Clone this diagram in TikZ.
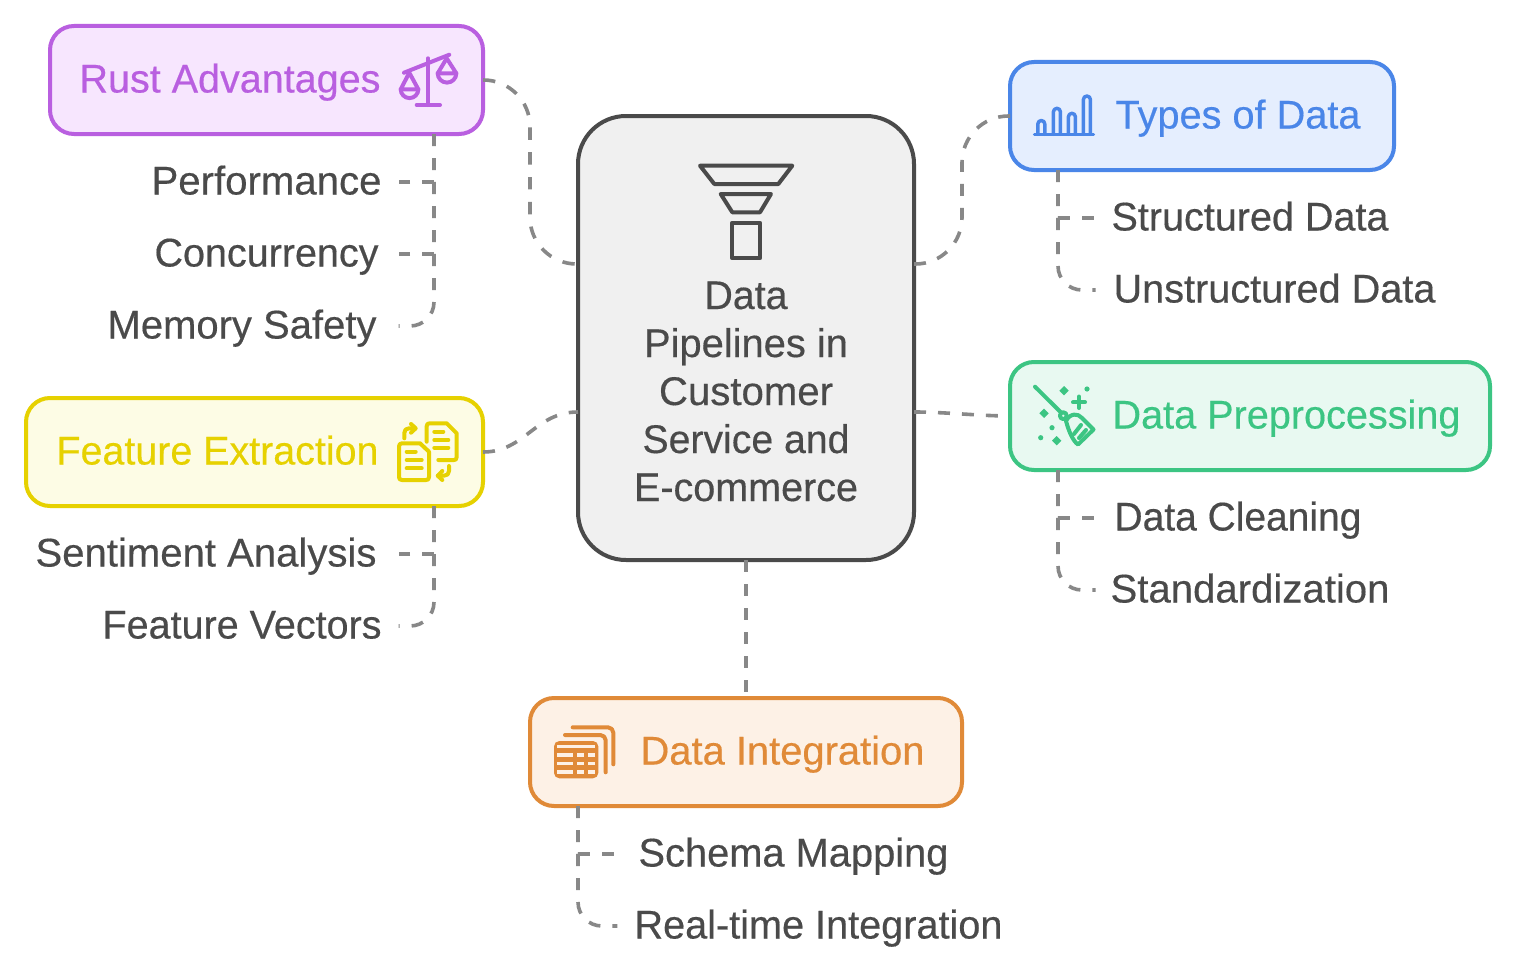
\documentclass[tikz,border=0pt]{standalone}
\usepackage{graphicx}
\usepackage{fontspec}
\setmainfont{Liberation Sans}[FakeBold=0.4]
\usetikzlibrary{calc}
\definecolor{cpurple}{HTML}{B95FE0}\definecolor{fpurple}{HTML}{F7E6FE}
\definecolor{cblue}{HTML}{4A86E8}\definecolor{fblue}{HTML}{E5EEFE}
\definecolor{cgreen}{HTML}{3CC583}\definecolor{fgreen}{HTML}{E8F9F1}
\definecolor{cyellow}{HTML}{E6D100}\definecolor{fyellow}{HTML}{FDFCE5}
\definecolor{corange}{HTML}{E08A38}\definecolor{forange}{HTML}{FDF1E6}
\definecolor{cdark}{HTML}{4A4A4A}\definecolor{fgray}{HTML}{F0F0F0}
\definecolor{cconn}{HTML}{888888}
\newcommand{\fitw}[2]{\resizebox{\dimexpr #1pt*3/4+0.75pt\relax}{\height}{#2}}
\newcommand{\boxn}[6]{\node[#6,minimum width={(#4-#2)*0.75pt},minimum height={(#5-#3)*0.75pt}] (#1) at ({(#2+#4)/2},{(#3+#5)/2}) {};}
\newcommand{\lab}[7][]{\node[textn,text=#7,#1] (#2) at ({(#3+#4)/2},#5) {\fitw{\the\numexpr #4-#3\relax}{#6}};}
\newcommand{\child}[6]{\node[textn,text=cdark,inner xsep={#5*0.75pt}] (#1) at ({(#2+#3)/2},#4) {\fitw{\the\numexpr #3-#2\relax}{#6}};}
\tikzset{
  boxbase/.style={draw,rectangle,rounded corners=18pt,line width=3pt,outer sep=0pt,inner sep=0pt},
  textn/.style={inner xsep=0pt,inner ysep=0pt,outer sep=0pt,font=\fontsize{30}{36}\selectfont,text height=18.75pt,text depth=0pt,anchor=center},
  conn/.style={draw=cconn,line width=2.7pt,dash pattern=on 9pt off 9pt},
  icon/.style={line width=3pt,line cap=round,line join=round},
}
\begin{document}
\begin{tikzpicture}[x=0.75pt,y=-0.75pt]
\useasboundingbox (0,0) rectangle (1516,974);
\fill[white] (0,0) rectangle (1516,974);
% boxes
\boxn{center}{578}{116}{914}{560}{boxbase,rounded corners=36pt,draw=cdark,fill=fgray}
\boxn{rust}{50}{26}{483}{134}{boxbase,draw=cpurple,fill=fpurple}
\boxn{types}{1010}{62}{1394}{170}{boxbase,draw=cblue,fill=fblue}
\boxn{prep}{1010}{362}{1490}{470}{boxbase,draw=cgreen,fill=fgreen}
\boxn{feat}{26}{398}{483}{506}{boxbase,draw=cyellow,fill=fyellow}
\boxn{integ}{530}{698}{962}{806}{boxbase,draw=corange,fill=forange}
% box labels
\lab{lrust}{80}{380}{80}{Rust Advantages}{cpurple}
\lab{ltypes}{1116}{1360}{116}{Types of Data}{cblue}
\lab{lprep}{1113}{1460}{416}{Data Preprocessing}{cgreen}
\lab{lfeat}{57}{378}{452}{Feature Extraction}{cyellow}
\lab{linteg}{641}{924}{752}{Data Integration}{corange}
% centre label
\node[text=cdark,align=center,font=\fontsize{30}{36}\selectfont,inner sep=0pt,anchor=base] (lcenter) at (746,501) {\fitw{82}{Data}\\\fitw{203}{Pipelines in}\\\fitw{173}{Customer}\\\fitw{206}{Service and}\\\fitw{223}{E-commerce}};
% children
\child{perf}{152}{381}{182}{17}{Performance}
\child{conc}{155}{378}{254}{20}{Concurrency}
\child{memo}{108}{376}{326}{22}{Memory Safety}
\child{sent}{36}{376}{554}{22}{Sentiment Analysis}
\child{fvec}{103}{381}{626}{17}{Feature Vectors}
\child{stru}{1112}{1388}{218}{16}{Structured Data}
\child{unst}{1114}{1435}{290}{18}{Unstructured Data}
\child{clea}{1115}{1361}{518}{19}{Data Cleaning}
\child{stan}{1111}{1389}{590}{15}{Standardization}
\child{sche}{639}{948}{854}{25}{Schema Mapping}
\child{real}{635}{1002}{926}{17}{Real-time Integration}
% connectors
\coordinate (cl1) at ($(center.north west)!1/3!(center.south west)$);
\coordinate (cl2) at ($(center.north west)!2/3!(center.south west)$);
\coordinate (cr1) at ($(center.north east)!1/3!(center.south east)$);
\coordinate (cr2) at ($(center.north east)!2/3!(center.south east)$);
\coordinate (lbend) at (530,170);
\coordinate (rbend) at (962,190);
\coordinate (rtrunk) at (434,134);
\coordinate (ftrunk) at (434,506);
\coordinate (ttrunk) at (1058,170);
\coordinate (ptrunk) at (1058,470);
\coordinate (itrunk) at (578,806);
\draw[conn,rounded corners=35pt,dash pattern=on 9.3pt off 9.3pt] (rust.east) -- (rust.east -| lbend) -- (cl1 -| lbend) -- (cl1);
\draw[conn,rounded corners=35pt] (cr1) -- (cr1 -| rbend) -- (types.west -| rbend) -- (types.west);
\draw[conn] (feat.east) .. controls (525,452) and (535,412) .. (cl2);
\draw[conn] (cr2) .. controls (945,412) and (980,416) .. (prep.west);
\draw[conn] (center.south) -- (integ.north);
\draw[conn] (rtrunk) |- (perf.east);
\draw[conn] (rtrunk) |- (conc.east);
\draw[conn,rounded corners=18pt] (rtrunk) |- (memo.east);
\draw[conn] (ftrunk) |- (sent.east);
\draw[conn,rounded corners=18pt] (ftrunk) |- (fvec.east);
\draw[conn] (ttrunk) |- (stru.west);
\draw[conn,rounded corners=18pt] (ttrunk) |- (unst.west);
\draw[conn] (ptrunk) |- (clea.west);
\draw[conn,rounded corners=18pt] (ptrunk) |- (stan.west);
\draw[conn] (itrunk) |- (sche.west);
\draw[conn,rounded corners=18pt] (itrunk) |- (real.west);
% funnel icon
\draw[icon,draw=cdark] (700,165.7) -- (792.3,165.7) -- (778.3,184) -- (714.3,184) -- cycle;
\draw[icon,draw=cdark] (720.7,194) -- (771,194) -- (760,212.3) -- (732.3,212.3) -- cycle;
\draw[icon,draw=cdark] (732.3,222.7) rectangle (760,258.3);
% scales icon
\begin{scope}[icon,draw=cpurple]
\draw (404,72.7) -- (449.3,54.7);
\draw (428,58.3) -- (428,105);
\draw (416.7,105) -- (440,105);
\draw (409.3,72.7) -- (400.7,89.3) -- (418.3,89.3) -- cycle;
\draw (400.7,89.3) arc[start angle=180,end angle=0,radius=8.8] ;
\draw (446.7,58.3) -- (437.7,73.3) -- (456.3,73.3) -- cycle;
\draw (437.7,73.3) arc[start angle=180,end angle=0,radius=9.3];
\end{scope}
% bars icon
\begin{scope}[icon,draw=cblue,line width=2.6pt]
\draw (1034.5,134.3) -- (1093.5,134.3);
\draw (1037.8,134.3) -- (1037.8,124) arc[start angle=180,end angle=360,radius=3.5] -- (1044.8,134.3);
\draw (1053.4,134.3) -- (1053.4,111.8) arc[start angle=180,end angle=360,radius=3.5] -- (1060.4,134.3);
\draw (1068.4,134.3) -- (1068.4,116.8) arc[start angle=180,end angle=360,radius=3.5] -- (1075.4,134.3);
\draw (1083.4,134.3) -- (1083.4,99.5) arc[start angle=180,end angle=360,radius=3.5] -- (1090.4,134.3);
\end{scope}
% broom icon
\begin{scope}[icon,draw=cgreen]
\draw (1035,386.7) -- (1061,412.5);
\draw (1063.3,415.7) circle[radius=3.4];
\draw (1066,421) .. controls (1070,413) and (1078,413) .. (1082,418) -- (1093.5,429.5) -- (1078,444.5) .. controls (1073,441) and (1069,432) .. cycle;
\draw (1074,434) -- (1081,425);
\draw (1079,438) -- (1086,430);
\draw (1079,396.5) -- (1079,408);
\draw (1073,402.3) -- (1085,402.3);
\fill[cgreen] (1064,386) -- (1068.7,390.7) -- (1064,395.4) -- (1059.3,390.7) -- cycle;
\fill[cgreen] (1044,408.6) -- (1048.7,413.3) -- (1044,418) -- (1039.3,413.3) -- cycle;
\fill[cgreen] (1056.7,436) -- (1061.4,440.7) -- (1056.7,445.4) -- (1052,440.7) -- cycle;
\fill[cgreen] (1087,389) circle[radius=2.6];
\fill[cgreen] (1052,427.7) circle[radius=2.6];
\fill[cgreen] (1040.7,437.7) circle[radius=2.6];
\end{scope}
% documents icon
\begin{scope}[icon,draw=cyellow]
\draw (426.7,441.7) -- (426.7,426) .. controls (426.7,424) and (428,423.3) .. (430,423.3) -- (446.7,423.3) -- (456.7,433.3) -- (456.7,457) .. controls (456.7,459.3) and (455.5,460) .. (454,460) -- (438.3,460);
\draw (434.3,431.7) -- (443.3,431.7);
\draw (434.3,440) -- (448.3,440);
\draw (434.3,447.7) -- (448.3,447.7);
\draw (399,446.5) .. controls (399,444.2) and (400.2,443.3) .. (402,443.3) -- (420,443.3) -- (429,451.7) -- (429,477) .. controls (429,479.3) and (427.8,480) .. (426,480) -- (402,480) .. controls (400,480) and (399,479) .. (399,477) -- cycle;
\draw (406.7,451.7) -- (415.7,451.7);
\draw (406.7,460) -- (421.7,460);
\draw (406.7,468.3) -- (421.7,468.3);
\draw (404.3,438.3) -- (404.3,433) .. controls (404.3,430) and (406,428.3) .. (409,428.3) -- (415,428.3);
\draw (411,424) -- (415.7,428.3) -- (411,432.7);
\draw (449,466) -- (449,471) .. controls (449,474) and (447,475.7) .. (444,475.7) -- (438,475.7);
\draw (442.3,471) -- (437.7,475.7) -- (442.3,480);
\end{scope}
% table icon
\begin{scope}[icon,draw=corange]
\fill[corange,rounded corners=4pt] (554,741) rectangle (598.3,778.3);
\fill[forange] (557.3,745) rectangle (595,748.3);
\foreach \yy/\yz in {752.7/756.7,761.7/765,770/774.3}{
  \fill[forange] (557.3,\yy) rectangle (573.3,\yz);
  \fill[forange] (576.7,\yy) rectangle (584,\yz);
  \fill[forange] (587.7,\yy) rectangle (595,\yz);
}
\draw[rounded corners=4pt] (565,735) -- (605.7,735) -- (605.7,772.3);
\draw[rounded corners=4pt] (572.7,727.3) -- (613.3,727.3) -- (613.3,764.3);
\end{scope}
\end{tikzpicture}
\end{document}
